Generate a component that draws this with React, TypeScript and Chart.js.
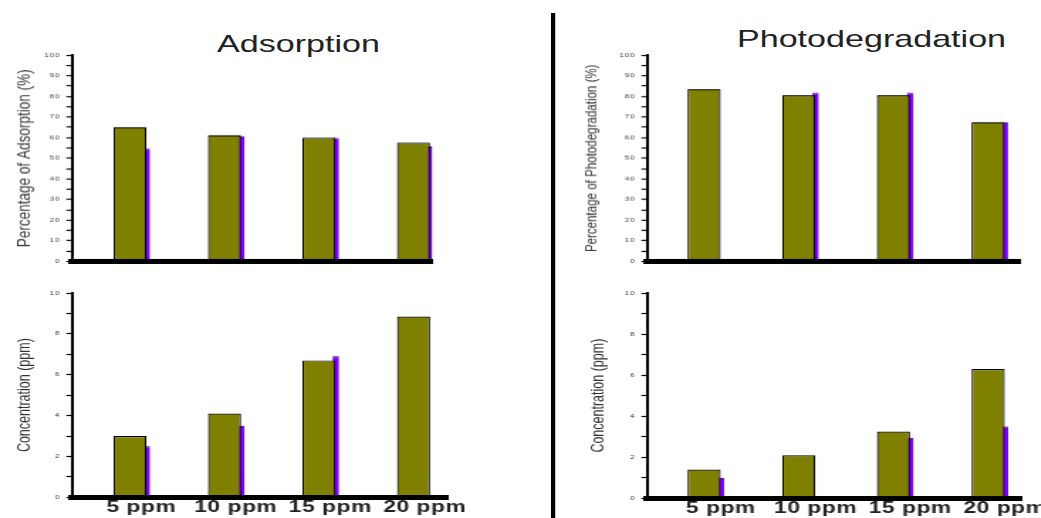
import React, { useEffect, useRef } from 'react';
import { Chart, registerables } from 'chart.js';

Chart.register(...registerables);

// ---------- data ----------
const doseLabels = ['5 ppm', '10 ppm', '15 ppm', '20 ppm'];

const adsorptionPercent = [65.1, 61.2, 60.0, 57.5];
const adsorptionPercentBack = [54.6, 60.7, 59.8, 55.7];
const adsorptionConc = [3.0, 4.1, 6.7, 8.85];
const adsorptionConcBack = [2.5, 3.5, 6.9, null];

const photoPercent = [83.5, 80.5, 80.5, 67.5];
const photoPercentBack = [null, 81.7, 81.7, 67.5];
const photoConc = [1.4, 2.1, 3.25, 6.3];
const photoConcBack = [1.0, null, 2.95, 3.5];

const titleAds = 'Adsorption';
const titlePhoto = 'Photodegradation';
const yTitleAdsPct = 'Percentage of Adsorption (%)';
const yTitlePhotoPct = 'Percentage of Photodegradation (%)';
const yTitleConc = 'Concentration (ppm)';

// ---------- styling / layout ----------
const S = 1.42; // horizontal stretch of the whole figure
const OLIVE = '#808000';
const VIOLET = '#8000ff';
const FONT = '"Liberation Sans", Arial, Helvetica, sans-serif';

type PanelDef = {
  values: (number | null)[];
  back: (number | null)[];
  yMax: number;
  minorStep: number;
  majorStep: number;
  yTitle: string;
  yTitleSize: number;
  yTitlePad: number;
  showX: boolean;
  labelOffset: number;
  canvasLeft: number;
  areaLeft: number;
  areaRight: number;
  canvasRight: number;
  areaTop: number;
  areaBottom: number;
  xHeight: number;
  xMin: number;
  xMax: number;
};

const MAIN_BAR = 0.35;
const BACK_BAR = 0.07;
const SHIFT = 0.177;

const panels: PanelDef[] = [
  {
    values: adsorptionPercent, back: adsorptionPercentBack, yMax: 100, minorStep: 5, majorStep: 10,
    yTitle: yTitleAdsPct, yTitleSize: 13.5, yTitlePad: 9, showX: false, labelOffset: 0,
    canvasLeft: 0, areaLeft: 72, areaRight: 432, canvasRight: 452, areaTop: 55, areaBottom: 260.5, xHeight: 12,
    xMin: -0.614, xMax: 3.196,
  },
  {
    values: adsorptionConc, back: adsorptionConcBack, yMax: 10, minorStep: 1, majorStep: 2,
    yTitle: yTitleConc, yTitleSize: 12.5, yTitlePad: 10.5, showX: true, labelOffset: 7.9,
    canvasLeft: 0, areaLeft: 72, areaRight: 448, canvasRight: 470, areaTop: 292.7, areaBottom: 497, xHeight: 21,
    xMin: -0.614, xMax: 3.365,
  },
  {
    values: photoPercent, back: photoPercentBack, yMax: 100, minorStep: 5, majorStep: 10,
    yTitle: yTitlePhotoPct, yTitleSize: 11.5, yTitlePad: 4.7, showX: false, labelOffset: 0,
    canvasLeft: 575, areaLeft: 647, areaRight: 1020, canvasRight: 1038, areaTop: 55, areaBottom: 260.5, xHeight: 12,
    xMin: -0.602, xMax: 3.338,
  },
  {
    values: photoConc, back: photoConcBack, yMax: 10, minorStep: 1, majorStep: 2,
    yTitle: yTitleConc, yTitleSize: 12.5, yTitlePad: 8.7, showX: true, labelOffset: 11.8,
    canvasLeft: 575, areaLeft: 647, areaRight: 1022, canvasRight: 1041, areaTop: 292.7, areaBottom: 498, xHeight: 20,
    xMin: -0.602, xMax: 3.359,
  },
];

const LABEL_SPACING: Record<string, string> = { x: '0.4px', y: '0.8px' };

const tickSpacingPlugin = {
  id: 'tickSpacing',
  afterUpdate(chart: any) {
    for (const id of Object.keys(LABEL_SPACING)) {
      const s = chart.scales[id];
      if (s && !s.__wrapped) {
        const orig = s.drawLabels;
        s.drawLabels = function (area: any) {
          const ctx = this.ctx;
          const prev = ctx.letterSpacing;
          ctx.letterSpacing = LABEL_SPACING[id];
          orig.call(this, area);
          ctx.letterSpacing = prev;
        };
        s.__wrapped = true;
      }
    }
  },
};

function setIntegerTicks(scale: any) {
  scale.ticks = doseLabels.map((_, i) => ({ value: i }));
}

function BarPanel({ p }: { p: PanelDef }) {
  const ref = useRef<HTMLCanvasElement>(null);
  const padTop = 10;
  const top = p.areaTop - padTop;
  const height = p.areaBottom + p.xHeight - top;
  const width = (p.canvasRight - p.canvasLeft) / S;

  useEffect(() => {
    if (!ref.current) return;
    const chart = new Chart(ref.current, {
      type: 'bar',
      data: {
        datasets: [
          {
            label: 'main',
            data: p.values.map((v, i) => ({ x: i, y: v })) as any,
            backgroundColor: OLIVE,
            borderColor: '#000',
            borderWidth: 1.2,
            xAxisID: 'x',
            yAxisID: 'y',
            order: 1,
            grouped: false,
            barPercentage: MAIN_BAR,
            categoryPercentage: 1,
          },
          {
            label: 'back',
            data: p.back.map((v, i) => ({ x: i, y: v })) as any,
            backgroundColor: VIOLET,
            borderColor: '#1a0033',
            borderWidth: { top: 1, left: 0, right: 0, bottom: 0 },
            xAxisID: 'x2',
            yAxisID: 'y',
            order: 2,
            grouped: false,
            barPercentage: BACK_BAR,
            categoryPercentage: 1,
          },
        ],
      },
      options: {
        animation: false,
        responsive: true,
        maintainAspectRatio: false,
        layout: {
          padding: { top: padTop, right: (p.canvasRight - p.areaRight) / S, left: 0, bottom: 0 },
        },
        plugins: { legend: { display: false }, tooltip: { enabled: false } },
        scales: {
          x: {
            type: 'linear',
            offset: false,
            min: p.xMin,
            max: p.xMax,
            afterBuildTicks: setIntegerTicks,
            afterFit: (s: any) => {
              s.height = p.xHeight;
              s.paddingLeft = 0;
              s.paddingRight = 0;
            },
            grid: { display: false, drawTicks: false, offset: false },
            border: { display: true, color: '#000', width: 5, z: 1 },
            ticks: {
              display: p.showX,
              autoSkip: false,
              maxRotation: 0,
              padding: 1,
              labelOffset: p.labelOffset,
              color: '#222',
              font: { family: FONT, size: 16, weight: 'bold' },
              callback: (v: any) => doseLabels[v as number] ?? '',
            },
          },
          x2: {
            type: 'linear',
            display: false,
            offset: false,
            grid: { offset: false },
            min: p.xMin - SHIFT,
            max: p.xMax - SHIFT,
            afterBuildTicks: setIntegerTicks,
          },
          y: {
            min: 0,
            max: p.yMax,
            afterFit: (s: any) => {
              s.width = (p.areaLeft - p.canvasLeft) / S;
              s.paddingTop = 0;
              s.paddingBottom = 0;
            },
            ticks: {
              stepSize: p.minorStep,
              autoSkip: false,
              padding: 4,
              color: '#333',
              font: { family: FONT, size: 5.5 },
              callback: (v: any) => ((v as number) % p.majorStep === 0 ? String(v) : ''),
            },
            grid: {
              display: true,
              drawOnChartArea: false,
              drawTicks: true,
              tickLength: 4,
              tickColor: '#000',
              tickWidth: 1.2,
            },
            border: { display: true, color: '#000', width: 2, z: 1 },
            title: {
              display: true,
              text: p.yTitle,
              color: '#333',
              font: { family: FONT, size: p.yTitleSize },
              padding: { top: p.yTitlePad, bottom: 0 },
            },
          },
        },
      } as any,
      plugins: [tickSpacingPlugin as any],
    });
    return () => chart.destroy();
  }, []);

  return (
    <div
      style={{
        position: 'absolute',
        left: p.canvasLeft / S,
        top,
        width,
        height,
      }}
    >
      <canvas ref={ref} />
    </div>
  );
}

export default function App() {
  return (
    <div
      style={{
        position: 'absolute',
        left: 0,
        top: 0,
        width: 1041 / S,
        height: 518,
        background: '#fff',
        transform: `scaleX(${S})`,
        transformOrigin: '0 0',
        overflow: 'hidden',
      }}
    >
      <div
        style={{
          position: 'absolute',
          left: 217 / S,
          top: 31.7,
          font: `24px ${FONT}`,
          lineHeight: '24px',
          color: '#222',
          whiteSpace: 'nowrap',
        }}
      >
        {titleAds}
      </div>
      <div
        style={{
          position: 'absolute',
          left: 737 / S,
          top: 26.7,
          font: `24px ${FONT}`,
          lineHeight: '24px',
          color: '#222',
          whiteSpace: 'nowrap',
        }}
      >
        {titlePhoto}
      </div>
      <div
        style={{
          position: 'absolute',
          left: 551 / S,
          top: 13,
          width: 4 / S,
          height: 505,
          background: '#000',
        }}
      />
      {panels.map((p, i) => (
        <BarPanel key={i} p={p} />
      ))}
    </div>
  );
}
